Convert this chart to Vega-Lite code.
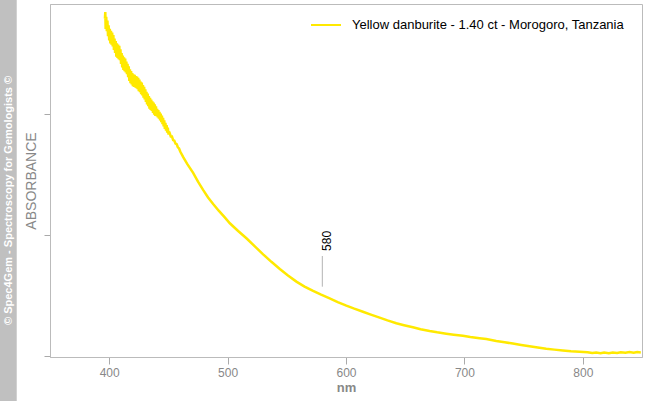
{
  "$schema": "https://vega.github.io/schema/vega-lite/v6.json",
  "width": 592,
  "height": 353,
  "autosize": "none",
  "padding": {"left": 50, "top": 4, "right": 4, "bottom": 44},
  "background": "white",
  "config": {
    "font": "Liberation Sans",
    "view": {"stroke": "#bbbbbb", "strokeWidth": 1},
    "axis": {"grid": false, "domainColor": "#bbbbbb", "tickColor": "#aaaaaa", "labelFont": "Liberation Sans", "titleFont": "Liberation Sans"},
    "legend": {"labelFont": "Liberation Sans"}
  },
  "datasets": {
    "spectrum": [
      {"nm": 396.4, "abs": 2.79}, {"nm": 396.7, "abs": 2.845}, {"nm": 397.0, "abs": 2.705}, {"nm": 397.5, "abs": 2.805},
      {"nm": 398.0, "abs": 2.685}, {"nm": 398.5, "abs": 2.775}, {"nm": 399.0, "abs": 2.645}, {"nm": 399.5, "abs": 2.735},
      {"nm": 400.0, "abs": 2.61}, {"nm": 400.5, "abs": 2.705}, {"nm": 401.0, "abs": 2.585}, {"nm": 401.5, "abs": 2.69},
      {"nm": 402.0, "abs": 2.575}, {"nm": 402.5, "abs": 2.675}, {"nm": 403.0, "abs": 2.56}, {"nm": 403.5, "abs": 2.655},
      {"nm": 404.0, "abs": 2.53}, {"nm": 404.5, "abs": 2.625}, {"nm": 405.0, "abs": 2.505}, {"nm": 405.5, "abs": 2.605},
      {"nm": 406.0, "abs": 2.475}, {"nm": 406.5, "abs": 2.585}, {"nm": 407.0, "abs": 2.465}, {"nm": 407.5, "abs": 2.575},
      {"nm": 408.0, "abs": 2.455}, {"nm": 408.5, "abs": 2.565}, {"nm": 409.0, "abs": 2.445}, {"nm": 409.5, "abs": 2.535},
      {"nm": 410.0, "abs": 2.415}, {"nm": 410.5, "abs": 2.505}, {"nm": 411.0, "abs": 2.385}, {"nm": 411.5, "abs": 2.485},
      {"nm": 412.0, "abs": 2.365}, {"nm": 412.5, "abs": 2.47}, {"nm": 413.0, "abs": 2.355}, {"nm": 413.5, "abs": 2.46},
      {"nm": 414.0, "abs": 2.345}, {"nm": 414.5, "abs": 2.435}, {"nm": 415.0, "abs": 2.33}, {"nm": 415.5, "abs": 2.415},
      {"nm": 416.0, "abs": 2.305}, {"nm": 416.5, "abs": 2.395}, {"nm": 417.0, "abs": 2.275}, {"nm": 417.5, "abs": 2.37},
      {"nm": 418.0, "abs": 2.255}, {"nm": 418.5, "abs": 2.355}, {"nm": 419.0, "abs": 2.245}, {"nm": 419.5, "abs": 2.34},
      {"nm": 420.0, "abs": 2.23}, {"nm": 420.5, "abs": 2.33}, {"nm": 421.0, "abs": 2.225}, {"nm": 421.5, "abs": 2.325},
      {"nm": 422.0, "abs": 2.22}, {"nm": 422.5, "abs": 2.315}, {"nm": 423.0, "abs": 2.215}, {"nm": 423.5, "abs": 2.31},
      {"nm": 424.0, "abs": 2.205}, {"nm": 424.5, "abs": 2.30}, {"nm": 425.0, "abs": 2.19}, {"nm": 425.5, "abs": 2.285},
      {"nm": 426.0, "abs": 2.18}, {"nm": 426.5, "abs": 2.27}, {"nm": 427.0, "abs": 2.165}, {"nm": 427.5, "abs": 2.26},
      {"nm": 428.0, "abs": 2.155}, {"nm": 428.5, "abs": 2.24}, {"nm": 429.0, "abs": 2.135}, {"nm": 429.5, "abs": 2.225},
      {"nm": 430.0, "abs": 2.12}, {"nm": 430.5, "abs": 2.205}, {"nm": 431.0, "abs": 2.10}, {"nm": 431.5, "abs": 2.185},
      {"nm": 432.0, "abs": 2.08}, {"nm": 432.5, "abs": 2.17}, {"nm": 433.0, "abs": 2.065}, {"nm": 433.5, "abs": 2.15},
      {"nm": 434.0, "abs": 2.045}, {"nm": 434.5, "abs": 2.135}, {"nm": 435.0, "abs": 2.035}, {"nm": 435.5, "abs": 2.12},
      {"nm": 436.0, "abs": 2.025}, {"nm": 436.5, "abs": 2.105}, {"nm": 437.0, "abs": 2.01}, {"nm": 437.5, "abs": 2.095},
      {"nm": 438.0, "abs": 1.995}, {"nm": 438.5, "abs": 2.08}, {"nm": 439.0, "abs": 1.985}, {"nm": 439.5, "abs": 2.065},
      {"nm": 440.0, "abs": 1.982}, {"nm": 440.5, "abs": 2.043}, {"nm": 441.0, "abs": 1.972}, {"nm": 441.5, "abs": 2.033},
      {"nm": 442.0, "abs": 1.962}, {"nm": 442.5, "abs": 2.018}, {"nm": 443.0, "abs": 1.947}, {"nm": 443.5, "abs": 2.003},
      {"nm": 444.0, "abs": 1.932}, {"nm": 444.5, "abs": 1.988}, {"nm": 445.0, "abs": 1.917}, {"nm": 445.5, "abs": 1.968},
      {"nm": 446.0, "abs": 1.897}, {"nm": 446.5, "abs": 1.948}, {"nm": 447.0, "abs": 1.877}, {"nm": 447.5, "abs": 1.928},
      {"nm": 448.0, "abs": 1.862}, {"nm": 448.5, "abs": 1.908}, {"nm": 449.0, "abs": 1.847}, {"nm": 449.5, "abs": 1.888},
      {"nm": 450.0, "abs": 1.842}, {"nm": 451, "abs": 1.845}, {"nm": 452, "abs": 1.815}, {"nm": 453, "abs": 1.815},
      {"nm": 454, "abs": 1.785}, {"nm": 455, "abs": 1.78}, {"nm": 456, "abs": 1.755}, {"nm": 457, "abs": 1.75},
      {"nm": 458, "abs": 1.725}, {"nm": 459, "abs": 1.715}, {"nm": 460, "abs": 1.69}, {"nm": 462.4, "abs": 1.645},
      {"nm": 466, "abs": 1.585}, {"nm": 470.9, "abs": 1.513}, {"nm": 475, "abs": 1.44}, {"nm": 479.3, "abs": 1.372},
      {"nm": 483.5, "abs": 1.31}, {"nm": 487.8, "abs": 1.256}, {"nm": 492.5, "abs": 1.20}, {"nm": 497.6, "abs": 1.145},
      {"nm": 501.9, "abs": 1.096}, {"nm": 508.9, "abs": 1.032}, {"nm": 515.9, "abs": 0.972}, {"nm": 523, "abs": 0.905},
      {"nm": 530.0, "abs": 0.839}, {"nm": 537, "abs": 0.777}, {"nm": 544.1, "abs": 0.718}, {"nm": 551, "abs": 0.664},
      {"nm": 558.1, "abs": 0.613}, {"nm": 565, "abs": 0.572}, {"nm": 572.2, "abs": 0.536}, {"nm": 579, "abs": 0.505},
      {"nm": 586.2, "abs": 0.475}, {"nm": 593, "abs": 0.444}, {"nm": 600.3, "abs": 0.414}, {"nm": 607, "abs": 0.389},
      {"nm": 614.3, "abs": 0.364}, {"nm": 621, "abs": 0.340}, {"nm": 628.4, "abs": 0.315}, {"nm": 635, "abs": 0.292},
      {"nm": 642.5, "abs": 0.268}, {"nm": 649, "abs": 0.252}, {"nm": 656.5, "abs": 0.235}, {"nm": 663, "abs": 0.219},
      {"nm": 670.6, "abs": 0.204}, {"nm": 677, "abs": 0.193}, {"nm": 684.7, "abs": 0.182}, {"nm": 691, "abs": 0.174},
      {"nm": 698.7, "abs": 0.165}, {"nm": 705, "abs": 0.155}, {"nm": 712.8, "abs": 0.145}, {"nm": 718.5, "abs": 0.138},
      {"nm": 726.9, "abs": 0.122}, {"nm": 734, "abs": 0.111}, {"nm": 740.9, "abs": 0.100}, {"nm": 748, "abs": 0.089},
      {"nm": 755, "abs": 0.078}, {"nm": 762, "abs": 0.068}, {"nm": 769.1, "abs": 0.058}, {"nm": 776, "abs": 0.050},
      {"nm": 783.1, "abs": 0.043}, {"nm": 790, "abs": 0.037}, {"nm": 797.2, "abs": 0.033}, {"nm": 804, "abs": 0.029},
      {"nm": 808, "abs": 0.022}, {"nm": 811.3, "abs": 0.027}, {"nm": 815, "abs": 0.021}, {"nm": 818, "abs": 0.027},
      {"nm": 822, "abs": 0.021}, {"nm": 825.3, "abs": 0.026}, {"nm": 829, "abs": 0.023}, {"nm": 832, "abs": 0.029},
      {"nm": 836, "abs": 0.024}, {"nm": 839.4, "abs": 0.03}, {"nm": 843, "abs": 0.025}, {"nm": 846, "abs": 0.03},
      {"nm": 849, "abs": 0.027}
    ]
  },
  "layer": [
    {
      "data": {"values": [{}]},
      "mark": {"type": "rect", "color": "#c0c0c0", "clip": false},
      "encoding": {
        "x": {"datum": 290, "type": "quantitative"},
        "x2": {"datum": 321.9},
        "y": {"datum": -1, "type": "quantitative"},
        "y2": {"datum": 4}
      }
    },
    {
      "data": {"values": [{}]},
      "mark": {"type": "text", "text": "© Spec4Gem - Spectroscopy for Gemologists ©", "angle": 270, "align": "center", "baseline": "middle", "color": "white", "fontSize": 11, "fontWeight": "bold", "clip": false},
      "encoding": {
        "x": {"datum": 315.3, "type": "quantitative"},
        "y": {"datum": 1.285, "type": "quantitative"}
      }
    },
    {
      "data": {"name": "spectrum"},
      "transform": [{"calculate": "'Yellow danburite - 1.40 ct - Morogoro, Tanzania'", "as": "series"}],
      "mark": {"type": "line", "strokeWidth": 2.5},
      "encoding": {
        "x": {
          "field": "nm", "type": "quantitative",
          "scale": {"domain": [350, 850], "nice": false, "zero": false},
          "axis": {"title": "nm", "values": [400, 500, 600, 700, 800], "tickSize": 7, "labelColor": "#888888", "labelFontSize": 12, "labelPadding": 3, "titleColor": "#888888", "titleFontSize": 13, "titleFontWeight": "bold", "titlePadding": 3}
        },
        "y": {
          "field": "abs", "type": "quantitative",
          "scale": {"domain": [-0.011, 2.911], "nice": false, "zero": false},
          "axis": {"title": "ABSORBANCE", "values": [0, 1, 2], "labels": false, "tickSize": 6, "titleColor": "#888888", "titleFontSize": 14, "titleFontWeight": "normal", "titlePadding": 5}
        },
        "color": {
          "field": "series", "type": "nominal",
          "scale": {"range": ["#ffe900"]},
          "legend": {"title": null, "orient": "none", "legendX": 260, "legendY": 5, "padding": 0, "symbolType": "stroke", "symbolStrokeWidth": 2, "symbolSize": 900, "labelFontSize": 13, "labelColor": "black", "labelOffset": 10, "labelLimit": 400}
        }
      }
    },
    {
      "data": {"values": [{}]},
      "mark": {"type": "rule", "color": "#b4b4b4", "strokeWidth": 1},
      "encoding": {
        "x": {"datum": 580, "type": "quantitative"},
        "y": {"datum": 0.571, "type": "quantitative"},
        "y2": {"datum": 0.825}
      }
    },
    {
      "data": {"values": [{}]},
      "mark": {"type": "text", "text": "580", "angle": 270, "align": "center", "baseline": "top", "color": "black", "fontSize": 12},
      "encoding": {
        "x": {"datum": 580, "type": "quantitative"},
        "y": {"datum": 0.95, "type": "quantitative"}
      }
    }
  ]
}
